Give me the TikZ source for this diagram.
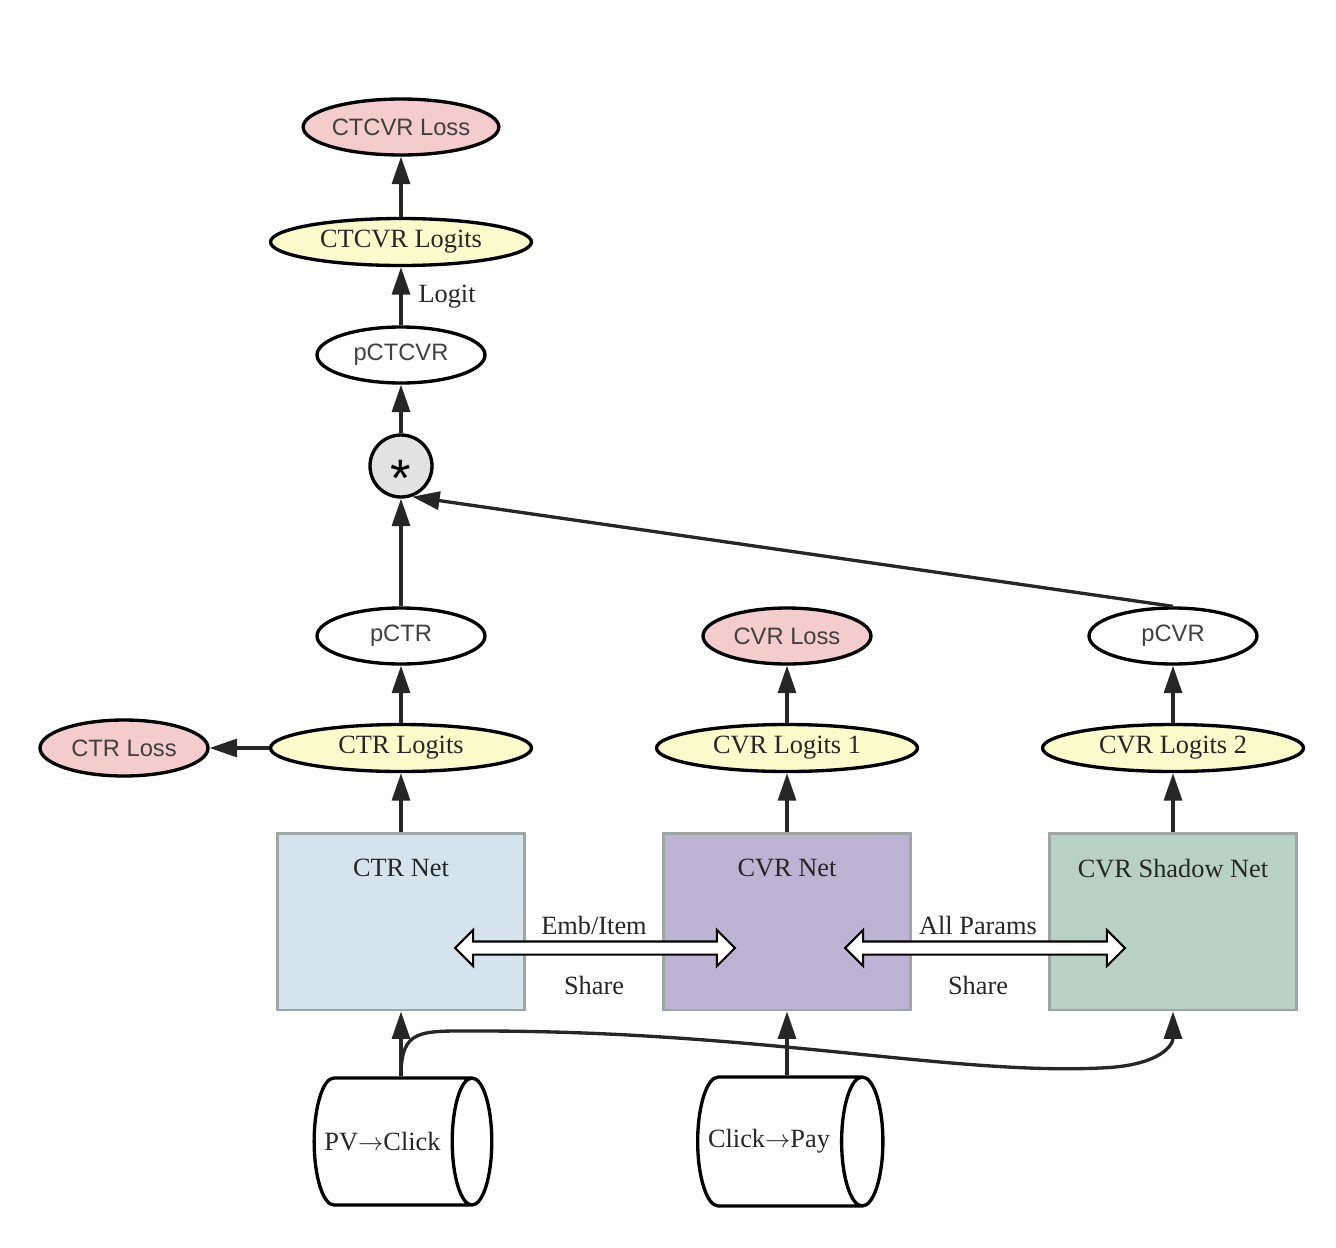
\documentclass[tikz,border=0pt]{standalone}
\usepackage{fontspec}
\setmainfont{Liberation Serif}
\newfontfamily\helv{Liberation Sans}
\usetikzlibrary{positioning}
\usetikzlibrary{arrows.meta}
\usetikzlibrary{shapes.geometric}
\usetikzlibrary{shapes.arrows}
\definecolor{losspink}{RGB}{244,204,204}
\definecolor{logityellow}{RGB}{250,250,202}
\definecolor{stargray}{RGB}{226,226,226}
\definecolor{ctrblue}{RGB}{213,227,236}
\definecolor{cvrpurple}{RGB}{189,180,211}
\definecolor{shadowgreen}{RGB}{185,209,197}
\definecolor{boxgray}{RGB}{158,165,165}
\definecolor{txtgray}{RGB}{64,64,64}
\tikzset{
  oval/.style = {ellipse, draw, line width=1.9pt, inner sep=0, minimum width=3.36cm, minimum height=1.12cm},
  loss/.style = {oval, fill=losspink, font=\helv\fontsize{13.5}{16}\selectfont, text=txtgray},
  prob/.style = {oval, fill=white, font=\helv\fontsize{13.5}{16}\selectfont, text=txtgray},
  logits/.style = {oval, fill=logityellow, minimum width=5.22cm, minimum height=0.94cm, font=\fontsize{15}{18}\selectfont, text=black!85},
  netbox/.style = {rectangle, draw=boxgray, line width=1.7pt, minimum width=4.96cm, minimum height=3.54cm},
  nettitle/.style = {font=\fontsize{15}{18}\selectfont, inner sep=0, text=black!85},
  store/.style = {cylinder, draw, fill=white, line width=1.9pt, shape border rotate=0, aspect=0.32, inner xsep=0.2cm, inner ysep=1.05cm, minimum width=2.54cm, font=\fontsize{15}{18}\selectfont, text=black!85},
  share/.style = {double arrow, draw, fill=white, line width=1.2pt, minimum height=5.6cm, inner xsep=0, inner ysep=0.11cm, double arrow head extend=0.23cm},
  sharetext/.style = {font=\fontsize{15}{18}\selectfont, text=black!85},
  flow/.style = {-{Triangle[length=0.55cm,width=0.36cm]}, line width=1.9pt, black!85},
}
\begin{document}
\begin{tikzpicture}[x=0.02cm, y=-0.02cm]
    \useasboundingbox (0,0) rectangle (1336,1248);
    % top chain
    \node[loss] (ctcvrloss) at (401,127) {CTCVR Loss};
    \node[logits] (ctcvrlogits) at (401,242) {CTCVR Logits};
    \node[prob] (pctcvr) at (401,355) {pCTCVR};
    \node[circle, draw, fill=stargray, line width=1.9pt, minimum size=1.24cm, inner sep=0,
          font=\helv\fontsize{30}{30}\selectfont, text height=0pt, text depth=0pt] (star) at (401,466) {\raisebox{-0.58em}{*}};
    % probabilities and losses
    \node[prob] (pctr) at (401,636) {pCTR};
    \node[loss] (cvrloss) at (787,636) {CVR Loss};
    \node[prob] (pcvr) at (1173,636) {pCVR};
    \node[loss] (ctrloss) at (124,748) {CTR Loss};
    \node[logits] (ctrlogits) at (401,748) {CTR Logits};
    \node[logits] (cvrlogits1) at (787,748) {CVR Logits 1};
    \node[logits] (cvrlogits2) at (1173,748) {CVR Logits 2};
    % nets
    \node[netbox, fill=ctrblue] (ctrnet) at (401,921.5) {};
    \node[netbox, fill=cvrpurple] (cvrnet) at (787,921.5) {};
    \node[netbox, fill=shadowgreen] (shadownet) at (1173,921.5) {};
    \node[nettitle, below=0.55cm of ctrnet.north] {CTR Net};
    \node[nettitle, below=0.55cm of cvrnet.north] {CVR Net};
    \node[nettitle, below=0.55cm of shadownet.north] {CVR Shadow Net};
    % sharing
    \node[share] (share1) at (595,948) {};
    \node[share] (share2) at (985,948) {};
    \node[sharetext] at (594,925) {Emb/Item};
    \node[sharetext] at (594,985) {Share};
    \node[sharetext] at (978,925) {All Params};
    \node[sharetext] at (978,985) {Share};
    % samples
    \node[store] (pvclick) at (382.5,1141.5) {PV$\rightarrow$Click};
    \node[store] (clickpay) at (769,1141.5) {Click$\rightarrow$Pay};
    % edges
    \draw[flow] (pvclick.north -| ctrnet.south) -- (ctrnet.south);
    \draw[flow] (clickpay.north -| cvrnet.south) -- (cvrnet.south);
    \draw[flow] (pvclick.north -| ctrnet.south) .. controls (401,1028) and (420,1031) .. (480,1031)
        .. controls (760,1031) and (950,1075) .. (1100,1068)
        .. controls (1160,1066) and (1173,1045) .. (shadownet.south);
    \draw[flow] (ctrnet) -- (ctrlogits);
    \draw[flow] (cvrnet) -- (cvrlogits1);
    \draw[flow] (shadownet) -- (cvrlogits2);
    \draw[flow] (ctrlogits) -- (ctrloss);
    \draw[flow] (ctrlogits) -- (pctr);
    \draw[flow] (cvrlogits1) -- (cvrloss);
    \draw[flow] (cvrlogits2) -- (pcvr);
    \draw[flow] (pctr) -- (star);
    \draw[flow] (pcvr.north) -- (star.-70);
    \draw[flow] (star) -- (pctcvr);
    \draw[flow] (pctcvr) -- node[right, sharetext, xshift=0.2cm] {Logit} (ctcvrlogits);
    \draw[flow] (ctcvrlogits) -- (ctcvrloss);
\end{tikzpicture}
\end{document}
